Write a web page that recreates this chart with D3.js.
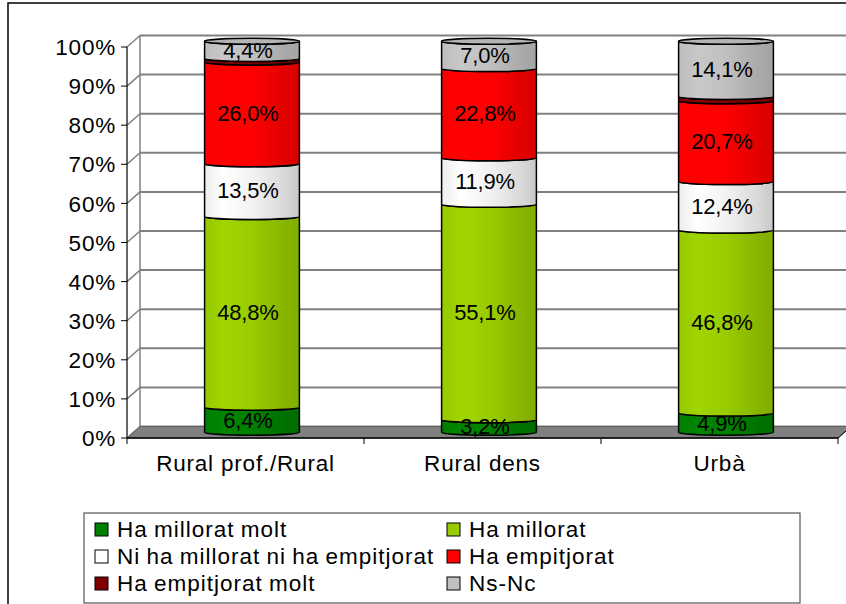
<!DOCTYPE html>
<html>
<head>
<meta charset="utf-8">
<script src="https://cdn.jsdelivr.net/npm/d3@7"></script>
<style>
  html, body { margin: 0; padding: 0; background: #fff; }
  svg { display: block; font-family: "Liberation Sans", Arial, sans-serif; }
</style>
</head>
<body>
<svg id="chart" width="846" height="604"></svg>
<script>
// ---- data ----
const categories = ["Rural prof./Rural", "Rural dens", "Urbà"];
const seriesNames = ["Ha millorat molt", "Ha millorat", "Ni ha millorat ni ha empitjorat",
                     "Ha empitjorat", "Ha empitjorat molt", "Ns-Nc"];
const haMilloratMolt   = [6.4, 3.2, 4.9];
const haMillorat       = [48.8, 55.1, 46.8];
const niNi             = [13.5, 11.9, 12.4];
const haEmpitjorat     = [26.0, 22.8, 20.7];
const haEmpitjoratMolt = [0.9, 0.0, 1.1];
const nsNc             = [4.4, 7.0, 14.1];
const yTicks = [0, 10, 20, 30, 40, 50, 60, 70, 80, 90, 100];
const seriesColors = ["#008000", "#99CC00", "#FFFFFF", "#FF0000", "#800000", "#C0C0C0"];

const seriesValues = [haMilloratMolt, haMillorat, niNi, haEmpitjorat, haEmpitjoratMolt, nsNc];
const table = categories.map((c, i) => {
  const row = { cat: c };
  seriesNames.forEach((s, k) => row[s] = seriesValues[k][i]);
  return row;
});

const svg = d3.select("#chart");
const defs = svg.append("defs");

// gradients for cylinder shading
const shade = (c, k) => d3.color(c).darker(k).formatHex();
const bright = (c, k) => d3.color(c).brighter(k).formatHex();
seriesColors.forEach((c, i) => {
  const g = defs.append("linearGradient").attr("id", "g" + i)
    .attr("x1", 0).attr("x2", 1).attr("y1", 0).attr("y2", 0);
  const isWhite = c.toUpperCase() === "#FFFFFF";
  const stops = isWhite
    ? [[0, "#EDEDED"], [0.2, "#FFFFFF"], [0.5, "#F2F2F2"], [0.85, "#D8D8D8"], [1, "#C8C8C8"]]
    : [[0, shade(c, 0.05)], [0.2, bright(c, 0.12)], [0.5, c], [0.85, shade(c, 0.35)], [1, shade(c, 0.45)]];
  stops.forEach(s => g.append("stop").attr("offset", s[0]).attr("stop-color", s[1]));
});

// ---- geometry ----
const dx = 13, dy = -11.5;
const y = d3.scaleLinear().domain([0, 100]).range([438, 47]);
const xBand = d3.scaleBand().domain(categories).range([127, 838]).paddingInner(0.6).paddingOuter(0.3);
const xStep = d3.scaleBand().domain(categories).range([127, 838]).padding(0);

// outer border
svg.append("rect").attr("x", 8).attr("y", 3).attr("width", 860).attr("height", 620)
  .attr("fill", "none").attr("stroke", "#000").attr("stroke-width", 1.5);

const xL = 127, xR = 838;

// side wall lines & back wall gridlines
const grid = svg.append("g");
grid.selectAll("line.diag").data(yTicks).join("line")
  .attr("x1", xL).attr("y1", d => y(d)).attr("x2", xL + dx).attr("y2", d => y(d) + dy)
  .attr("stroke", "#808080").attr("stroke-width", 1.5);
grid.selectAll("line.h").data(yTicks).join("line")
  .attr("x1", xL + dx).attr("y1", d => y(d) + dy).attr("x2", xR + dx + 10).attr("y2", d => y(d) + dy)
  .attr("stroke", "#808080").attr("stroke-width", 2);
grid.append("line").attr("x1", xL + dx).attr("x2", xL + dx)
  .attr("y1", y(100) + dy).attr("y2", y(0) + dy).attr("stroke", "#808080").attr("stroke-width", 1.5);

// floor
svg.append("path")
  .attr("d", `M${xL},${y(0)} L${xL + dx},${y(0) + dy} L${xR + dx},${y(0) + dy} L${xR},${y(0)} Z`)
  .attr("fill", "#808080").attr("stroke", "#606060").attr("stroke-width", 1);
svg.append("line").attr("x1", xL).attr("x2", xR).attr("y1", y(0)).attr("y2", y(0))
  .attr("stroke", "#000").attr("stroke-width", 1.5);

// y axis
svg.append("line").attr("x1", xL).attr("x2", xL).attr("y1", y(100)).attr("y2", y(0))
  .attr("stroke", "#000").attr("stroke-width", 1.2);
svg.selectAll("line.yt").data(yTicks).join("line")
  .attr("x1", xL - 6).attr("x2", xL).attr("y1", d => y(d)).attr("y2", d => y(d))
  .attr("stroke", "#000").attr("stroke-width", 1);
svg.selectAll("text.yl").data(yTicks).join("text")
  .attr("x", 116).attr("y", d => y(d)).attr("dy", "0.36em")
  .attr("text-anchor", "end").attr("font-size", 22.5).attr("letter-spacing", "0.8px")
  .attr("fill", "#000").text(d => d + "%");

// x axis ticks
const bounds = categories.map(c => xStep(c)).concat([xR]);
svg.selectAll("line.xt").data(bounds).join("line")
  .attr("x1", d => d).attr("x2", d => d).attr("y1", y(0)).attr("y2", y(0) + 6)
  .attr("stroke", "#000").attr("stroke-width", 1);
svg.append("line").attr("x1", xR).attr("y1", y(0)).attr("x2", xR + dx).attr("y2", y(0) + dy)
  .attr("stroke", "#000").attr("stroke-width", 1);
svg.selectAll("text.xl").data(categories).join("text")
  .attr("x", c => xBand(c) + xBand.bandwidth() / 2).attr("y", 471)
  .attr("text-anchor", "middle").attr("font-size", 22.5).attr("letter-spacing", "0.8px")
  .attr("fill", "#000").text(c => c);

// ---- stacked cylinders ----
const stack = d3.stack().keys(seriesNames)(table);
const ry = 3;
const yb = v => y(v) + dy / 2;
const bars = svg.append("g");
stack.forEach((layer, si) => {
  layer.forEach((d, ci) => {
    const v0 = d[0], v1 = d[1];
    if (v1 - v0 <= 0) return;
    const L = xBand(categories[ci]) + dx / 2, R = L + xBand.bandwidth();
    const rx = (R - L) / 2;
    const y0 = yb(v0), y1 = yb(v1);
    bars.append("path")
      .attr("d", `M${L},${y1} L${L},${y0} A${rx},${ry} 0 0 0 ${R},${y0} L${R},${y1} A${rx},${ry} 0 0 1 ${L},${y1} Z`)
      .attr("fill", `url(#g${si})`).attr("stroke", "#000").attr("stroke-width", 1.5)
      .attr("stroke-linejoin", "round");
  });
});
// top caps
categories.forEach((c, ci) => {
  const L = xBand(c) + dx / 2, R = L + xBand.bandwidth();
  bars.append("ellipse").attr("cx", (L + R) / 2).attr("cy", yb(100))
    .attr("rx", (R - L) / 2).attr("ry", ry)
    .attr("fill", "#B4B4B4").attr("stroke", "#000").attr("stroke-width", 1.5);
});
// labels
stack.forEach((layer, si) => {
  layer.forEach((d, ci) => {
    const val = d[1] - d[0];
    if (val < 2) return;
    const cx = xBand(categories[ci]) + xBand.bandwidth() / 2 + 2.5;
    bars.append("text").attr("x", cx).attr("y", yb((d[0] + d[1]) / 2)).attr("dy", "0.36em")
      .attr("text-anchor", "middle").attr("font-size", 22).attr("letter-spacing", "-0.2px")
      .attr("fill", "#000").text(val.toFixed(1).replace(".", ",") + "%");
  });
});

// ---- legend ----
svg.append("rect").attr("x", 84).attr("y", 513).attr("width", 716).attr("height", 90)
  .attr("fill", "#fff").attr("stroke", "#555").attr("stroke-width", 1.2);
const lg = svg.append("g");
seriesNames.forEach((s, i) => {
  const col = i % 2, row = Math.floor(i / 2);
  const sx = col === 0 ? 95 : 447;
  const base = 537 + row * 27;
  lg.append("rect").attr("x", sx).attr("y", base - 14).attr("width", 13).attr("height", 13)
    .attr("fill", seriesColors[i]).attr("stroke", "#000").attr("stroke-width", 1);
  lg.append("text").attr("x", sx + 22).attr("y", base).attr("font-size", 22.5)
    .attr("letter-spacing", "1px").attr("word-spacing", "-1px").attr("fill", "#000").text(s);
});
</script>
</body>
</html>
